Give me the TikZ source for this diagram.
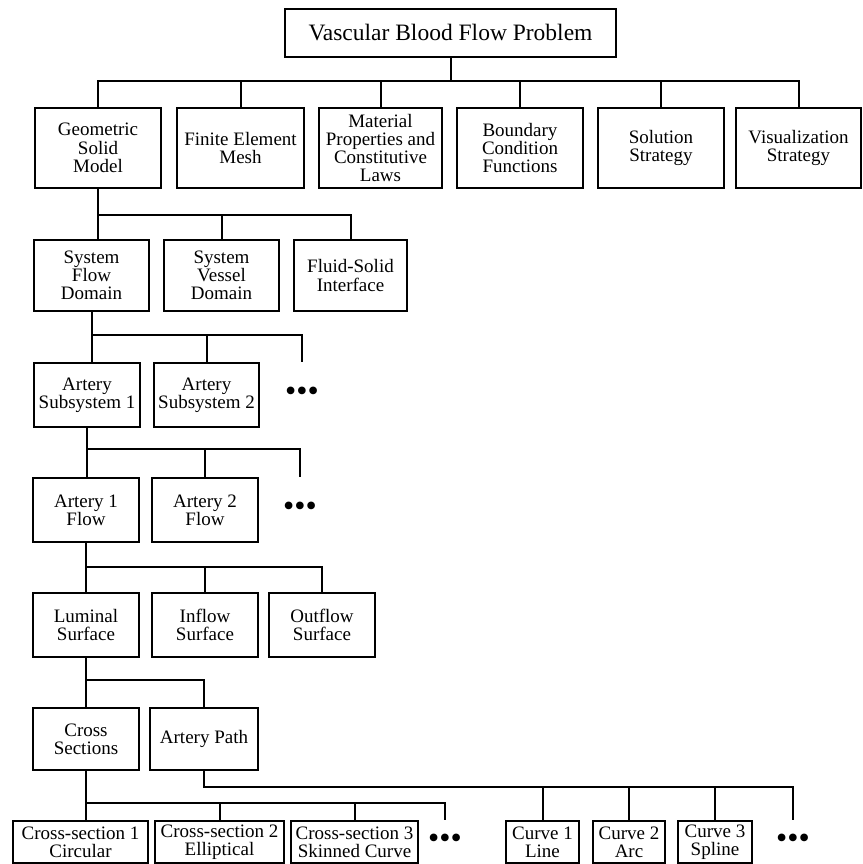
\documentclass[tikz,border=0pt]{standalone}
\usepackage{fontspec}
\setmainfont{Liberation Serif}
\usetikzlibrary{positioning}

\tikzset{
  box/.style={draw, line width=2pt, inner sep=1pt, align=center, anchor=north west,
    font=\fontsize{19}{18.2}\selectfont},
  lnk/.style={line width=2pt},
  more/.style={anchor=north, inner sep=0pt, font=\fontsize{32}{32}\selectfont}
}

\begin{document}
\begin{tikzpicture}[x=1pt, y=-1pt]
    \useasboundingbox (0,0) rectangle (862,864);

    % Problem
    \node[box, minimum width=331pt, minimum height=48pt, font=\fontsize{23.5}{24}\selectfont] (vbfp) at (284,8) {Vascular Blood Flow Problem};

    % First level
    \node[box, minimum width=126pt, minimum height=80pt] (geo) at (34,107) {Geometric\\Solid\\Model};
    \node[box, minimum width=127pt, minimum height=80pt] (fem) at (176,107) {Finite Element\\Mesh};
    \node[box, minimum width=123pt, minimum height=80pt] (mat) at (318,107) {Material\\Properties and\\Constitutive\\Laws};
    \node[box, minimum width=126pt, minimum height=80pt] (bcf) at (456,107) {Boundary\\Condition\\Functions};
    \node[box, minimum width=126pt, minimum height=80pt] (sol) at (597,107) {Solution\\Strategy};
    \node[box, minimum width=125pt, minimum height=80pt] (vis) at (735,107) {Visualization\\Strategy};

    % Solid model parts
    \node[box, minimum width=115pt, minimum height=71pt] (sfd) at (33,239) {System\\Flow\\Domain};
    \node[box, minimum width=115pt, minimum height=71pt] (svd) at (163,239) {System\\Vessel\\Domain};
    \node[box, minimum width=113pt, minimum height=71pt] (fsi) at (293,239) {Fluid-Solid\\Interface};

    % Subsystems
    \node[box, minimum width=106pt, minimum height=64pt] (as1) at (33,362) {Artery\\Subsystem 1};
    \node[box, minimum width=105pt, minimum height=64pt] (as2) at (153,362) {Artery\\Subsystem 2};
    \node[more, minimum height=64pt] (dots1) at (302,362) {\textbullet\textbullet\textbullet};

    % Arteries
    \node[box, minimum width=106pt, minimum height=64pt] (af1) at (32,477) {Artery 1\\Flow};
    \node[box, minimum width=106pt, minimum height=64pt] (af2) at (151,477) {Artery 2\\Flow};
    \node[more, minimum height=64pt] (dots2) at (300,477) {\textbullet\textbullet\textbullet};

    % Surfaces
    \node[box, minimum width=106pt, minimum height=64pt] (lum) at (32,592) {Luminal\\Surface};
    \node[box, minimum width=106pt, minimum height=64pt] (inf) at (151,592) {Inflow\\Surface};
    \node[box, minimum width=106pt, minimum height=64pt] (out) at (268,592) {Outflow\\Surface};

    % Luminal surface parts
    \node[box, minimum width=106pt, minimum height=62pt] (cs) at (32,707) {Cross\\Sections};
    \node[box, minimum width=108pt, minimum height=62pt] (ap) at (149,707) {Artery Path};

    % Cross-sections and curves
    \node[box, minimum width=135pt, minimum height=42pt] (cs1) at (12,820) {Cross-section 1\\Circular};
    \node[box, minimum width=129pt, minimum height=42pt] (cs2) at (154,820) {Cross-section 2\\Elliptical};
    \node[box, minimum width=127pt, minimum height=42pt] (cs3) at (290,820) {Cross-section 3\\Skinned Curve};
    \node[more, minimum height=42pt] (dots3) at (445,820) {\textbullet\textbullet\textbullet};
    \node[box, minimum width=73pt, minimum height=42pt] (cv1) at (505,820) {Curve 1\\Line};
    \node[box, minimum width=72pt, minimum height=42pt] (cv2) at (592,820) {Curve 2\\Arc};
    \node[box, minimum width=74pt, minimum height=42pt] (cv3) at (677,820) {Curve 3\\Spline};
    \node[more, minimum height=42pt] (dots4) at (793,820) {\textbullet\textbullet\textbullet};

    % Bus heights
    \coordinate (bus1) at (0,81);
    \coordinate (bus2) at (0,215);
    \coordinate (bus3) at (0,335);
    \coordinate (bus4) at (0,449);
    \coordinate (bus5) at (0,567);
    \coordinate (bus6) at (0,680);
    \coordinate (bus7) at (0,803);
    \coordinate (bus8) at (0,787);

    % Connectors
    \draw[lnk] (vbfp.south) -- (vbfp.south |- bus1);
    \draw[lnk] (geo.north) |- (vis.north |- bus1) -- (vis.north);
    \foreach \n in {fem,mat,bcf,sol}
        \draw[lnk] (\n.north) -- (\n.north |- bus1);

    \draw[lnk] (geo.south) -- (geo.south |- sfd.north);
    \draw[lnk] (geo.south |- bus2) -| (fsi.north);
    \draw[lnk] (svd.north) -- (svd.north |- bus2);

    \draw[lnk] (sfd.south) -- (sfd.south |- as1.north);
    \draw[lnk] (sfd.south |- bus3) -| (dots1.north);
    \draw[lnk] (as2.north) -- (as2.north |- bus3);

    \draw[lnk] (as1.south) -- (as1.south |- af1.north);
    \draw[lnk] (as1.south |- bus4) -| (dots2.north);
    \draw[lnk] (af2.north) -- (af2.north |- bus4);

    \draw[lnk] (af1.south) -- (af1.south |- lum.north);
    \draw[lnk] (af1.south |- bus5) -| (out.north);
    \draw[lnk] (inf.north) -- (inf.north |- bus5);

    \draw[lnk] (lum.south) -- (lum.south |- cs.north);
    \draw[lnk] (lum.south |- bus6) -| (ap.north);

    \draw[lnk] (cs.south) -- (cs.south |- cs1.north);
    \draw[lnk] (cs.south |- bus7) -| (dots3.north);
    \foreach \n in {cs2,cs3}
        \draw[lnk] (\n.north) -- (\n.north |- bus7);

    \draw[lnk] (ap.south) |- (dots4.north |- bus8) -- (dots4.north);
    \foreach \n in {cv1,cv2,cv3}
        \draw[lnk] (\n.north) -- (\n.north |- bus8);
\end{tikzpicture}
\end{document}
